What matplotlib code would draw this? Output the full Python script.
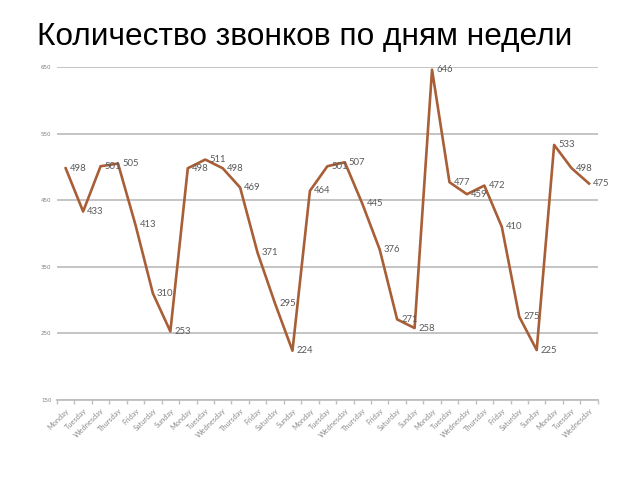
import matplotlib
matplotlib.use("Agg")
import matplotlib.pyplot as plt
import numpy as np

days = ["Monday", "Tuesday", "Wednesday", "Thursday", "Friday", "Saturday", "Sunday"]
categories = (days * 5)[:31]
calls = [498, 433, 501, 505, 413, 310, 253,
         498, 511, 498, 469, 371, 295, 224,
         464, 501, 507, 445, 376, 271, 258,
         646, 477, 459, 472, 410, 275, 225,
         533, 498, 475]
yticks = [150, 250, 350, 450, 550, 650]
title = "Количество звонков по дням недели"

fig = plt.figure(figsize=(6.4, 4.8), dpi=100)
ax = fig.add_axes([0.089, 0.1667, 0.845, 0.6937])

x = np.arange(len(calls))
ax.plot(x, calls, color="#A85E36", lw=1.9, solid_joinstyle="round", zorder=3)

for xi, v in zip(x, calls):
    ax.annotate(str(v), (xi, v), xytext=(3, 0), textcoords="offset points",
                ha="left", va="center", fontsize=6.8, color="#595959",
                family=["Lato", "DejaVu Sans"], zorder=4)

ax.set_ylim(150, 650)
ax.set_xlim(-0.5, len(calls) - 0.5)
ax.set_yticks(yticks)
ax.set_yticklabels([str(t) for t in yticks], fontsize=4, color="#7f7f7f")
ax.yaxis.grid(True, color="#bfbfbf", lw=1.3)
ax.set_axisbelow(True)
ax.tick_params(axis="y", length=0, pad=4)

ax.set_xticks(x)
ax.set_xticklabels(categories, rotation=45, ha="right", rotation_mode="anchor",
                   fontsize=5.3, color="#8c8c8c", family=["Lato", "DejaVu Sans"])
ax.tick_params(axis="x", which="major", length=0, pad=5)
ax.set_xticks(np.arange(-0.5, len(calls), 1.0), minor=True)
ax.tick_params(axis="x", which="minor", length=3, color="#bfbfbf", width=1)

for s in ["left", "right", "top"]:
    ax.spines[s].set_visible(False)
ax.spines["bottom"].set_color("#bfbfbf")
ax.spines["bottom"].set_linewidth(1.3)

fig.text(0.058, 0.906, title, fontsize=22.8, family=["Liberation Sans", "DejaVu Sans"],
         color="black", va="baseline", ha="left")

fig.savefig("out.png", dpi=100)
